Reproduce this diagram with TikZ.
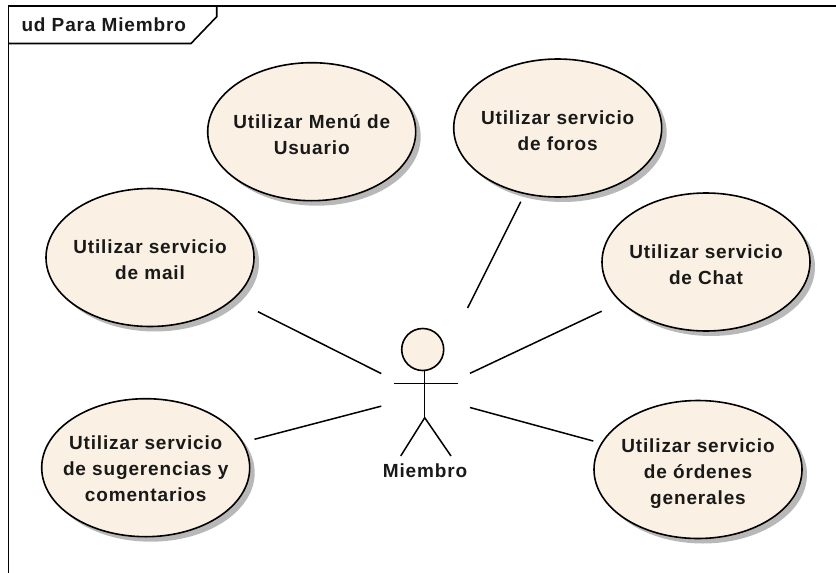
\documentclass[tikz,border=0pt]{standalone}
\usepackage{fontspec}
\setmainfont{Liberation Sans}[LetterSpace=4.5]
\usetikzlibrary{shapes.geometric,shadows}
\definecolor{ucfill}{RGB}{250,240,227}
\newcommand{\dn}[1]{\rule{0pt}{\dimexpr 14pt+#1pt\relax}}
\tikzset{
 x=1pt,y=-1pt,
 labelfont/.style={font=\bfseries\fontsize{19}{25.8}\selectfont,text=black!90},
 usecase/.style={ellipse,draw=black,line width=1.6pt,fill=ucfill,minimum width=208pt,minimum height=138pt,inner xsep=-40pt,inner ysep=-30pt,outer sep=0pt,align=center,labelfont,
   drop shadow={shadow xshift=5pt,shadow yshift=-5pt,fill=black!28,opacity=1}},
 assoc/.style={line width=1.5pt,black},
 limb/.style={line width=1.5pt,black},
 hidden/.style={rectangle,minimum width=85.4pt,minimum height=174pt,inner sep=0pt,outer sep=0pt},
}
\begin{document}
\begin{tikzpicture}
\useasboundingbox (0,0) rectangle (836,573);
\draw[line width=1.6pt] (8.3,573) -- (8.3,6) -- (836,6);
\draw[line width=1.6pt] (8.3,43.5) -- (191,43.5) -- (216.7,16.7) -- (216.7,6);
\node[anchor=west,labelfont] (title) at (18,24.5) {ud Para Miembro};
\node[usecase] (menu) at (311.7,131.7) {\dn{5.6}Utilizar Menú de\\Usuario};
\node[usecase] (foros) at (557.7,128) {\dn{4.4}Utilizar servicio\\de foros};
\node[usecase] (chat) at (706,262) {\dn{5.6}Utilizar servicio\\de Chat};
\node[usecase] (mail) at (150,257.5) {\dn{3.4}Utilizar servicio\\de mail};
\node[usecase] (sug) at (145.7,467.7) {\dn{1.6}Utilizar servicio\\de sugerencias y\\comentarios};
\node[usecase] (ord) at (698,469.5) {\dn{8}Utilizar servicio\\de órdenes\\generales};
\node[hidden] (actor) at (424,395) {};
\node[circle,draw=black,line width=1.6pt,fill=ucfill,minimum size=42pt,inner sep=0pt] (head) at (422.7,349.5) {};
\coordinate (hip) at (424.7,417.7);
\coordinate (armL) at (394,383.7);
\coordinate (armR) at (457.7,383.7);
\coordinate (footL) at (400.7,456);
\coordinate (footR) at (451,456);
\draw[limb] (head.south -| hip) -- (hip);
\draw[limb] (armL) -- (armR);
\draw[limb] (footL) -- (hip) -- (footR);
\node[labelfont] (lab) at (425,470.5) {Miembro};
\draw[assoc,shorten <=28pt] (mail) -- (actor);
\draw[assoc,shorten <=12.4pt] (sug) -- (actor);
\draw[assoc,shorten <=9.2pt,shorten >=2pt] (foros) -- (actor);
\draw[assoc,shorten <=21.6pt,shorten >=3.6pt] (chat) -- (actor);
\draw[assoc,shorten <=8.8pt,shorten >=3.4pt] (ord) -- (actor);
\end{tikzpicture}
\end{document}
